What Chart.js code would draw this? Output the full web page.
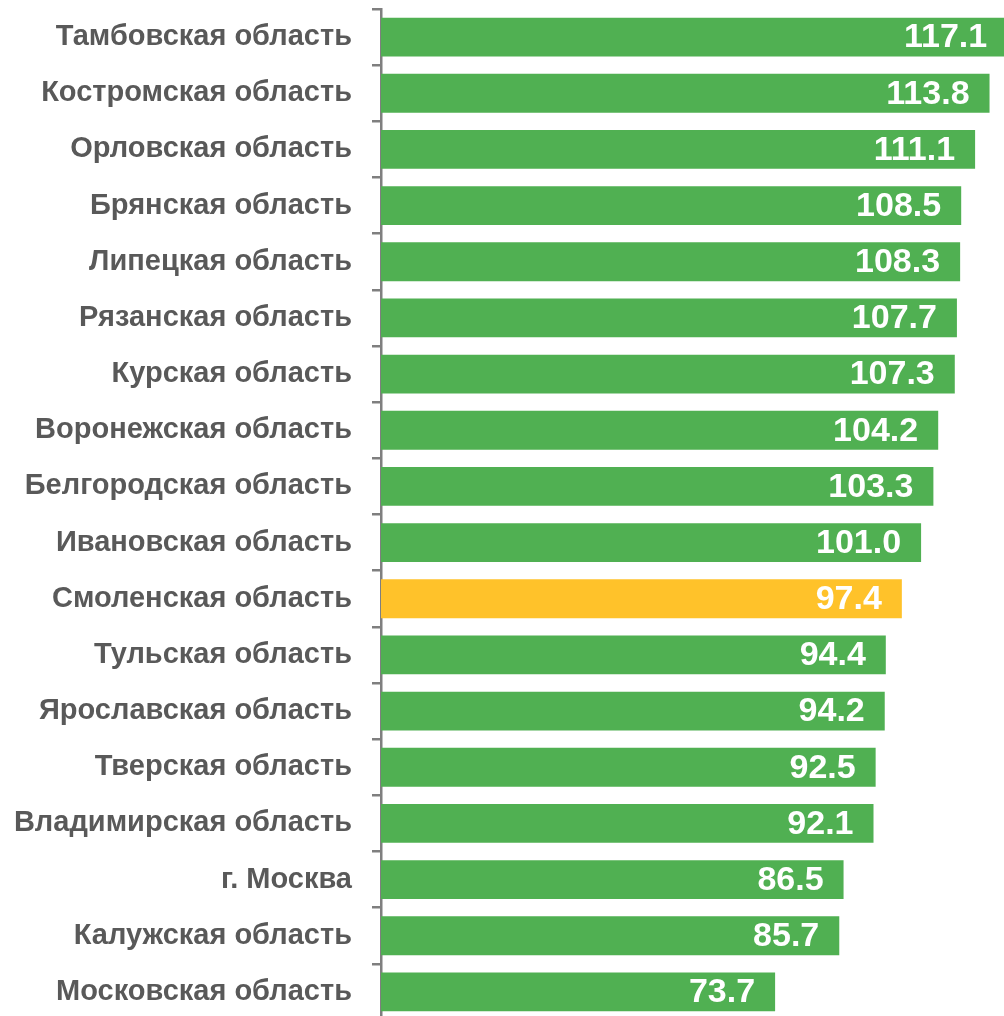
<!DOCTYPE html>
<html>
<head>
<meta charset="utf-8">
<script src="https://cdn.jsdelivr.net/npm/chart.js@4"></script>
<style>
    html, body { margin: 0; padding: 0; overflow: hidden; background: #fff; }
    #wrap { width: 1012px; height: 1022px; }
</style>
</head>
<body>
<div id="wrap"><canvas id="myChart"></canvas></div>
<script>
// Данные
const regions = [
    "Тамбовская область", "Костромская область", "Орловская область", "Брянская область",
    "Липецкая область", "Рязанская область", "Курская область", "Воронежская область",
    "Белгородская область", "Ивановская область", "Смоленская область", "Тульская область",
    "Ярославская область", "Тверская область", "Владимирская область", "г. Москва",
    "Калужская область", "Московская область"
];
const values = [117.1, 113.8, 111.1, 108.5, 108.3, 107.7, 107.3, 104.2, 103.3, 101.0,
    97.4, 94.4, 94.2, 92.5, 92.1, 86.5, 85.7, 73.7];
const highlight = "Смоленская область";

const green = 'rgb(80, 176, 82)';
const yellow = 'rgb(255, 194, 42)';
const grey = '#7f7f7f';

// Подписи значений внутри столбцов
const valueLabels = {
    id: 'valueLabels',
    afterDatasetsDraw(chart) {
        const ctx = chart.ctx;
        const meta = chart.getDatasetMeta(0);
        ctx.save();
        ctx.font = 'bold 34px "Liberation Sans", Arial, sans-serif';
        ctx.fillStyle = '#fff';
        ctx.textAlign = 'right';
        ctx.textBaseline = 'middle';
        meta.data.forEach((bar, i) => {
            ctx.fillText(values[i].toFixed(1), bar.x - 20, bar.y + 1);
        });
        ctx.restore();
    }
};

new Chart(document.getElementById('myChart'), {
    type: 'bar',
    data: {
        labels: regions,
        datasets: [{
            data: values,
            backgroundColor: regions.map(r => r === highlight ? yellow : green),
            categoryPercentage: 1,
            barPercentage: 0.69
        }]
    },
    options: {
        indexAxis: 'y',
        responsive: true,
        maintainAspectRatio: false,
        animation: false,
        layout: { padding: { top: 9, bottom: 2, right: 0 } },
        plugins: { legend: { display: false }, tooltip: { enabled: false } },
        scales: {
            x: {
                display: false,
                min: 0,
                max: 118
            },
            y: {
                afterFit(scale) {
                    scale.width = 381;
                    scale.paddingTop = 0;
                    scale.paddingBottom = 0;
                },
                grid: {
                    offset: true,
                    drawOnChartArea: false,
                    drawTicks: true,
                    tickLength: 9,
                    color: grey,
                    lineWidth: 2.5
                },
                border: { display: true, color: grey, width: 2.5 },
                ticks: {
                    padding: 20,
                    color: '#595959',
                    font: { family: '"Liberation Sans", Arial, sans-serif', size: 29, weight: 'bold' }
                }
            }
        }
    },
    plugins: [valueLabels]
});
</script>
</body>
</html>
